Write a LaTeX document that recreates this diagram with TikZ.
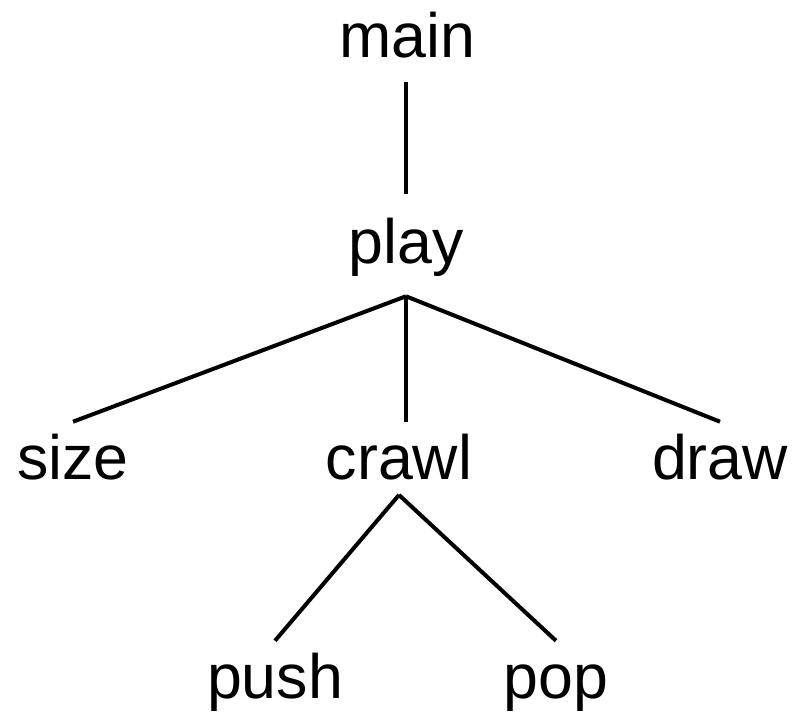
\documentclass[tikz,border=0pt]{standalone}
\usepackage{fontspec}
\setmainfont{Liberation Sans}
\usepackage{tikz}

\tikzset{
  fn/.style={anchor=base,inner xsep=0pt,inner ysep=9pt,text height=33.75pt,text depth=9.75pt,
    font=\fontsize{47pt}{56pt}\selectfont},
  call/.style={line width=3pt}
}

\begin{document}
\begin{tikzpicture}[x=0.75pt,y=-0.75pt]
			\useasboundingbox (0,0) rectangle (800,715);
			\node[fn] (main) at (407,57) {main};
			\node[fn] (play) at (406,263) {play};

			\node[fn] (size) at (73,479) {size};
			\node[fn] (crawl) at (399,479) {crawl};
			\node[fn] (draw) at (720,479) {draw};

			\node[fn] (push) at (275,698) {push};
			\node[fn] (pop) at (556,698) {pop};

			\draw[call] (main.south -| play) -- ([yshift=9pt]play.north);
			\draw[call] ([yshift=-6pt]play.south) -- (size.north);
			\draw[call] ([yshift=-6pt]play.south) -- (play.south |- crawl.north);
			\draw[call] ([yshift=-6pt]play.south) -- (draw.north);
			% crawl calls the stack routines
			\draw[call] ([yshift=7pt]crawl.south) -- (push.north);
			\draw[call] ([yshift=7pt]crawl.south) -- (pop.north);
		\end{tikzpicture}
\end{document}
